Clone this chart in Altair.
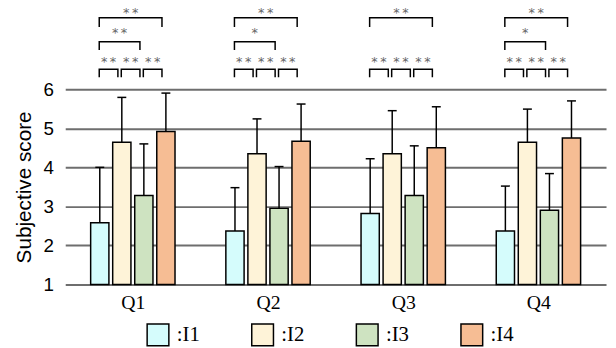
import altair as alt
import pandas as pd

questions = ["Q1", "Q2", "Q3", "Q4"]
series = ["I1", "I2", "I3", "I4"]
colors = ["#d5fcfc", "#fef3d8", "#cee3c1", "#f6bd94"]

mean_I1 = [2.58, 2.37, 2.82, 2.37]
mean_I2 = [4.64, 4.35, 4.35, 4.64]
mean_I3 = [3.28, 2.95, 3.28, 2.90]
mean_I4 = [4.92, 4.67, 4.50, 4.75]

sd_I1 = [1.42, 1.11, 1.40, 1.15]
sd_I2 = [1.15, 0.89, 1.10, 0.85]
sd_I3 = [1.32, 1.07, 1.27, 0.94]
sd_I4 = [0.98, 0.95, 1.05, 0.95]

# significance comparisons
comp_q = ["Q1", "Q1", "Q1", "Q1", "Q1",
          "Q2", "Q2", "Q2", "Q2", "Q2",
          "Q3", "Q3", "Q3", "Q3",
          "Q4", "Q4", "Q4", "Q4", "Q4"]
comp_a = ["I1", "I2", "I3", "I1", "I1",
          "I1", "I2", "I3", "I1", "I1",
          "I1", "I2", "I3", "I1",
          "I1", "I2", "I3", "I1", "I1"]
comp_b = ["I2", "I3", "I4", "I3", "I4",
          "I2", "I3", "I4", "I3", "I4",
          "I2", "I3", "I4", "I4",
          "I2", "I3", "I4", "I3", "I4"]
comp_mark = ["**", "**", "**", "**", "**",
             "**", "**", "**", "*", "**",
             "**", "**", "**", "**",
             "**", "**", "**", "*", "**"]

# layout helpers (not data)
SLOT = 0.163
HALF_BAR = 0.0675
CAP = 0.033
level_top = [6.513, 7.212, 7.826]
level_leg = [6.303, 7.003, 7.591]
level_txt = [6.70, 7.43, 7.95]

means = [mean_I1, mean_I2, mean_I3, mean_I4]
sds = [sd_I1, sd_I2, sd_I3, sd_I4]


def xpos(q, s):
    return questions.index(q) + 1 + (series.index(s) - 1.5) * SLOT


rows = []
for si, s in enumerate(series):
    for qi, q in enumerate(questions):
        c = xpos(q, s)
        rows.append(dict(series=s, q=q, x=c, xl=c - HALF_BAR, xr=c + HALF_BAR,
                         cl=c - CAP, cr=c + CAP,
                         mean=means[si][qi], upper=means[si][qi] + sds[si][qi]))
df = pd.DataFrame(rows)

brows = []
trows = []
for i, (q, a, b, m) in enumerate(zip(comp_q, comp_a, comp_b, comp_mark)):
    span = series.index(b) - series.index(a)
    lvl = span - 1
    xl = xpos(q, a) - 0.004
    xr = xpos(q, b) - 0.029
    pts = [(xl, level_leg[lvl]), (xl, level_top[lvl]), (xr, level_top[lvl]), (xr, level_leg[lvl])]
    for j, (px, py) in enumerate(pts):
        brows.append(dict(id=i, order=j, x=px, y=py))
    trows.append(dict(x=(xl + xr) / 2, y=level_txt[lvl], t="\u2009".join(m)))
bdf = pd.DataFrame(brows)
tdf = pd.DataFrame(trows)

xscale = alt.Scale(domain=[0.5, 4.5], nice=False, zero=False)
yscale = alt.Scale(domain=[1, 6], nice=False, zero=False)

label_expr = "[" + ",".join("'" + q + "'" for q in questions) + "][datum.value - 1]"

xaxis = alt.Axis(values=[1, 2, 3, 4], tickCount=4, labelExpr=label_expr, ticks=False, domain=False,
                 grid=False, labelFont="Liberation Serif", labelFontSize=20,
                 labelColor="black", labelPadding=8, title=None)
yaxis = alt.Axis(values=[1, 2, 3, 4, 5, 6], tickCount=6, format="d", grid=True,
                 gridColor="#6e6e6e", gridWidth=2,
                 domain=False, ticks=False, labelFont="Liberation Sans", labelFontSize=19,
                 labelColor="black", labelPadding=12, labelOverlap=False,
                 title="Subjective score",
                 titleFont="Liberation Sans", titleFontSize=21, titleFontWeight="normal",
                 titleColor="black", titlePadding=9)

err = alt.Chart(df).mark_rule(color="black", strokeWidth=1.5).encode(
    x=alt.X("x:Q", scale=xscale, axis=xaxis),
    y=alt.Y("mean:Q", scale=yscale, axis=yaxis),
    y2="upper:Q",
)
cap = alt.Chart(df).mark_rule(color="black", strokeWidth=1.5).encode(
    x=alt.X("cl:Q", scale=xscale), x2="cr:Q",
    y=alt.Y("upper:Q", scale=yscale),
)
bars = alt.Chart(df).mark_bar(stroke="black", strokeWidth=1.5).encode(
    x=alt.X("xl:Q", scale=xscale), x2="xr:Q",
    y=alt.Y("mean:Q", scale=yscale), y2=alt.datum(1),
    fill=alt.Fill("series:N", scale=alt.Scale(domain=series, range=colors),
                  legend=alt.Legend(orient="none", legendX=82, legendY=237, direction="horizontal",
                                    title=None, symbolType="square", symbolSize=484,
                                    symbolStrokeColor="black", symbolStrokeWidth=1.5,
                                    labelExpr="':' + datum.label", labelFont="Liberation Serif",
                                    labelFontSize=21, labelColor="black", labelOffset=7,
                                    columnPadding=49, padding=0, symbolOpacity=1)),
)
brk = alt.Chart(bdf).mark_line(color="black", strokeWidth=1.5, strokeJoin="miter").encode(
    x=alt.X("x:Q", scale=xscale),
    y=alt.Y("y:Q", scale=yscale),
    detail="id:N", order="order:Q",
)
txt = alt.Chart(tdf).mark_text(font="DejaVu Sans", fontSize=13, color="#666666",
                               baseline="middle").encode(
    x=alt.X("x:Q", scale=xscale),
    y=alt.Y("y:Q", scale=yscale),
    text="t:N",
)

chart = alt.layer(err, cap, bars, brk, txt).properties(
    width=548, height=198,
    autosize=alt.AutoSizeParams(type="none"),
    padding={"left": 58, "top": 80, "right": 2, "bottom": 62},
).configure_view(stroke=None)

chart.save("out.html", embed_options={"renderer": "svg", "actions": False})
